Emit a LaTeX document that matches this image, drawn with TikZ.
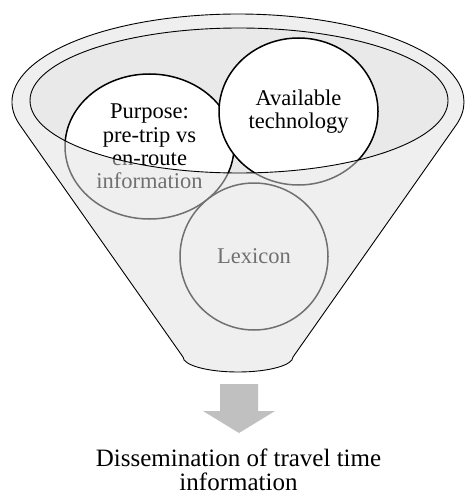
\documentclass[tikz,border=0pt]{standalone}
\usepackage{fontspec}
\setmainfont{Liberation Serif}
\usetikzlibrary{shapes.geometric}

\definecolor{mouthfill}{HTML}{E9E9E9}
\definecolor{veil}{HTML}{E0E0E0}
\definecolor{arrowgray}{HTML}{C0C0C0}

\tikzset{
  bubble/.style={ellipse, draw=black, line width=1.5pt, fill=white, inner sep=0pt,
    align=center, font=\fontsize{22.5}{23.3}\selectfont},
  funnelline/.style={draw=black, line width=0.9pt, line join=round},
  caption/.style={align=center, inner sep=0pt, font=\fontsize{25}{24}\selectfont}
}

\begin{document}
\begin{tikzpicture}[x=1pt,y=-1pt]
\useasboundingbox (0,0) rectangle (464,497);

% mouth of the funnel
\fill[mouthfill] (239,100.5) ellipse [x radius=209, y radius=72.5];

% the three factors
\node[bubble, minimum width=169pt, minimum height=145pt] (purpose) at (149.5,146.5)
  {Purpose:\\pre-trip vs\\en-route\\information};
\node[bubble, minimum width=159pt, minimum height=147pt] (tech) at (298.5,111.5)
  {Available\\technology};
\node[bubble, minimum width=148pt, minimum height=147pt] (lexicon) at (254,256.5)
  {Lexicon};

% translucent front wall of the funnel
\fill[veil, fill opacity=0.5, even odd rule]
  (19.7,124.8) arc[start angle=165, end angle=375, x radius=226, y radius=88]
  -- (293,357) arc[start angle=0, end angle=180, x radius=55, y radius=15] -- cycle
  (239,100.5) ellipse [x radius=209, y radius=72.5];

% funnel outlines
\draw[funnelline]
  (19.7,124.8) arc[start angle=165, end angle=375, x radius=226, y radius=88]
  -- (293,357) arc[start angle=0, end angle=180, x radius=55, y radius=15] -- cycle;
\draw[funnelline] (239,100.5) ellipse [x radius=209, y radius=72.5];

% output arrow
\fill[arrowgray] (220,384) -- (258,384) -- (258,411) -- (275,411) -- (239,433)
  -- (203,411) -- (220,411) -- cycle;

\node[caption] (result) at (238.5,469.5) {Dissemination of travel time\\information};
\end{tikzpicture}
\end{document}
